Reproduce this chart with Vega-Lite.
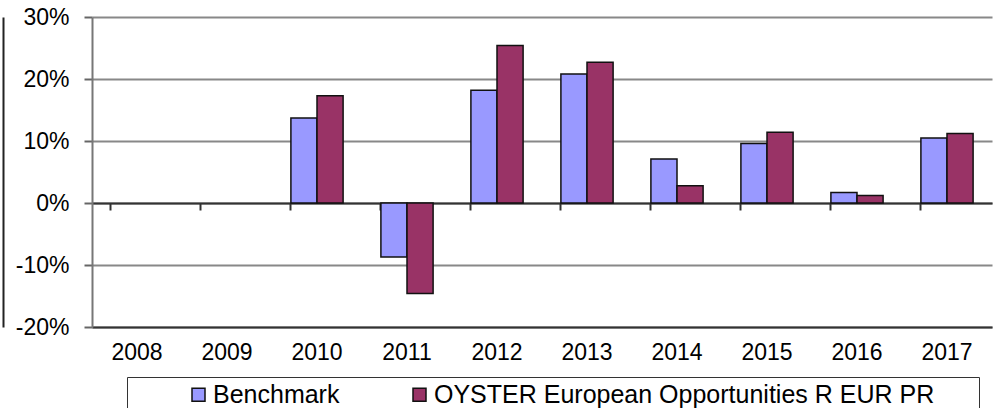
{
  "$schema": "https://vega.github.io/schema/vega-lite/v6.json",
  "width": 900,
  "height": 310,
  "autosize": {"type": "none"},
  "padding": {"left": 92, "top": 17, "right": 2, "bottom": 81},
  "background": "white",
  "config": {"view": {"stroke": null}, "font": "Liberation Sans"},
  "data": {
    "values": [
      {"year": "2010", "series": "Benchmark", "value": 0.137},
      {"year": "2010", "series": "OYSTER European Opportunities R EUR PR", "value": 0.173},
      {"year": "2011", "series": "Benchmark", "value": -0.087},
      {"year": "2011", "series": "OYSTER European Opportunities R EUR PR", "value": -0.146},
      {"year": "2012", "series": "Benchmark", "value": 0.182},
      {"year": "2012", "series": "OYSTER European Opportunities R EUR PR", "value": 0.254},
      {"year": "2013", "series": "Benchmark", "value": 0.208},
      {"year": "2013", "series": "OYSTER European Opportunities R EUR PR", "value": 0.227},
      {"year": "2014", "series": "Benchmark", "value": 0.071},
      {"year": "2014", "series": "OYSTER European Opportunities R EUR PR", "value": 0.028},
      {"year": "2015", "series": "Benchmark", "value": 0.096},
      {"year": "2015", "series": "OYSTER European Opportunities R EUR PR", "value": 0.114},
      {"year": "2016", "series": "Benchmark", "value": 0.017},
      {"year": "2016", "series": "OYSTER European Opportunities R EUR PR", "value": 0.012},
      {"year": "2017", "series": "Benchmark", "value": 0.105},
      {"year": "2017", "series": "OYSTER European Opportunities R EUR PR", "value": 0.112}
    ]
  },
  "layer": [
    {
      "mark": {"type": "bar", "stroke": "#111111", "strokeWidth": 1.5},
      "encoding": {
        "x": {
          "field": "year",
          "type": "nominal",
          "scale": {
            "domain": ["2008", "2009", "2010", "2011", "2012", "2013", "2014", "2015", "2016", "2017"],
            "paddingInner": 0.42,
            "paddingOuter": 0.21
          },
          "axis": {
            "orient": "bottom",
            "title": null,
            "ticks": false,
            "domain": true,
            "domainColor": "#333333",
            "domainWidth": 2,
            "labelFont": "Liberation Sans",
            "labelFontSize": 23,
            "labelColor": "#000000",
            "labelPadding": 14,
            "labelAngle": 0
          }
        },
        "xOffset": {
          "field": "series",
          "type": "nominal",
          "scale": {
            "domain": ["Benchmark", "OYSTER European Opportunities R EUR PR"],
            "paddingInner": 0,
            "paddingOuter": 0
          }
        },
        "y": {
          "field": "value",
          "type": "quantitative",
          "scale": {"domain": [-0.2, 0.3], "nice": false, "zero": false},
          "axis": {
            "orient": "left",
            "title": null,
            "values": [-0.2, -0.1, 0, 0.1, 0.2, 0.3],
            "labelExpr": "(datum.value < 0 ? '-' : '') + format(abs(datum.value), '.0%')",
            "grid": true,
            "gridColor": "#888888",
            "gridWidth": 2,
            "tickColor": "#666666",
            "tickSize": 8,
            "tickWidth": 2,
            "domainColor": "#777777",
            "domainWidth": 2,
            "labelFont": "Liberation Sans",
            "labelFontSize": 23,
            "labelPadding": 15,
            "labelColor": "#000000"
          }
        },
        "color": {
          "field": "series",
          "type": "nominal",
          "scale": {
            "domain": ["Benchmark", "OYSTER European Opportunities R EUR PR"],
            "range": ["#9999FF", "#993366"]
          },
          "legend": {
            "orient": "none",
            "legendX": 35,
            "legendY": 360,
            "direction": "horizontal",
            "title": " ",
            "titleOrient": "right",
            "titlePadding": 40,
            "titleFontSize": 25,
            "strokeColor": "#333333",
            "padding": 5,
            "symbolType": "square",
            "symbolSize": 169,
            "symbolStrokeColor": "#111111",
            "symbolStrokeWidth": 1.5,
            "symbolOffset": 54,
            "labelFont": "Liberation Sans",
            "labelFontSize": 25,
            "labelColor": "#000000",
            "labelOffset": 2,
            "labelLimit": 1000,
            "columnPadding": 13
          }
        }
      }
    },
    {
      "mark": {"type": "point", "opacity": 0},
      "encoding": {
        "x": {
          "field": "year",
          "type": "nominal",
          "axis": {
            "orient": "bottom",
            "title": null,
            "labels": false,
            "ticks": true,
            "tickSize": 7,
            "tickColor": "#333333",
            "tickWidth": 2,
            "bandPosition": 0,
            "domain": true,
            "domainColor": "#333333",
            "domainWidth": 2,
            "offset": -124,
            "grid": false
          }
        },
        "y": {
          "datum": 0,
          "type": "quantitative",
          "axis": {
            "orient": "left",
            "offset": 89,
            "labels": false,
            "ticks": false,
            "grid": false,
            "domain": true,
            "domainColor": "#222222",
            "domainWidth": 2,
            "title": null
          }
        }
      }
    }
  ],
  "resolve": {"axis": {"x": "independent", "y": "independent"}}
}
